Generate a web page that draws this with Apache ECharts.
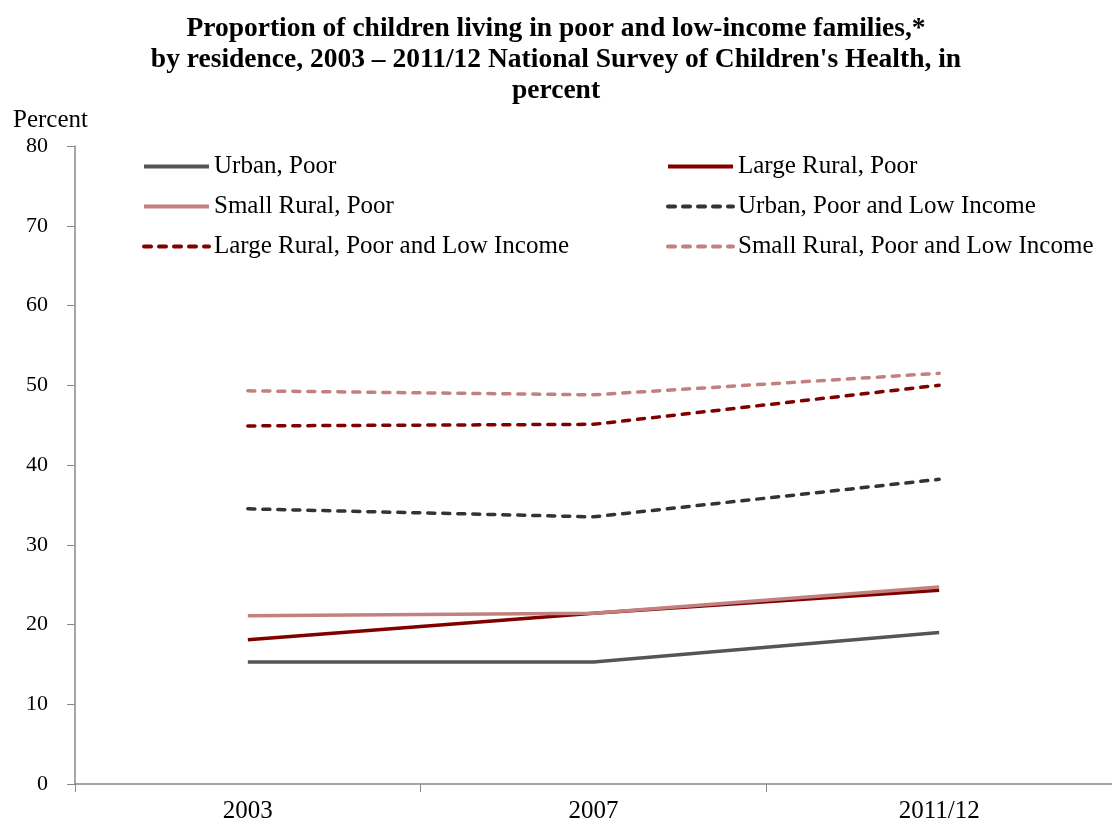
<!DOCTYPE html>
<html>
<head>
<meta charset="utf-8">
<script src="https://cdn.jsdelivr.net/npm/echarts@6/dist/echarts.min.js"></script>
<style>
  html, body { margin: 0; padding: 0; background: #fff; }
  #main { width: 1112px; height: 825px; }
</style>
</head>
<body>
<div id="main"></div>
<script>
// data
var years = ['2003', '2007', '2011/12'];
var urbanPoor = [15.3, 15.3, 19.0];
var largeRuralPoor = [18.1, 21.4, 24.3];
var smallRuralPoor = [21.1, 21.4, 24.7];
var urbanLow = [34.5, 33.5, 38.2];
var largeRuralLow = [44.9, 45.1, 50.0];
var smallRuralLow = [49.3, 48.8, 51.5];

var FONT = '"Liberation Serif", "DejaVu Serif", serif';

function line(name, values, color, dashed) {
  return {
    name: name,
    type: 'line',
    data: values,
    symbol: 'none',
    lineStyle: { color: color, width: 3.5, type: dashed ? [7, 8] : 'solid', cap: dashed ? 'round' : 'butt' },
    itemStyle: { color: color }
  };
}

var chart = echarts.init(document.getElementById('main'));

// legend: line only, no marker
var legendCommon = {
  orient: 'vertical',
  top: 149,
  itemWidth: 65,
  itemHeight: 26,
  itemGap: 15,
  itemStyle: { opacity: 0 },
  lineStyle: { width: 4 },
  textStyle: { fontFamily: FONT, fontSize: 25, color: '#000' }
};

var option = {
  backgroundColor: '#fff',
  animation: false,
  title: [{
    text: 'Proportion of children living in poor and low-income families,*\nby residence, 2003 \u2013 2011/12 National Survey of Children\'s Health, in\npercent',
    left: 'center',
    top: 8,
    textStyle: { fontFamily: FONT, fontSize: 27.5, fontWeight: 'bold', color: '#000', lineHeight: 31 }
  }, {
    text: 'Percent',
    left: 8,
    top: 103,
    textStyle: { fontFamily: FONT, fontSize: 25, fontWeight: 'normal', color: '#000' }
  }],
  legend: [
    Object.assign({}, legendCommon, {
      left: 137,
      data: ['Urban, Poor', 'Small Rural, Poor', 'Large Rural, Poor and Low Income']
    }),
    Object.assign({}, legendCommon, {
      left: 661,
      data: ['Large Rural, Poor', 'Urban, Poor and Low Income', 'Small Rural, Poor and Low Income']
    })
  ],
  grid: { left: 75, right: 0, top: 146, bottom: 41, containLabel: false },
  xAxis: {
    type: 'category',
    data: years,
    boundaryGap: true,
    axisLine: { lineStyle: { color: '#888', width: 1.5 } },
    axisTick: { show: true, length: 8, lineStyle: { color: '#888' } },
    axisLabel: { fontFamily: FONT, fontSize: 25, color: '#000', margin: 15 }
  },
  yAxis: {
    type: 'value',
    min: 0,
    max: 80,
    interval: 10,
    axisLine: { show: true, lineStyle: { color: '#888', width: 1.5 } },
    axisTick: { show: true, length: 8, lineStyle: { color: '#888' } },
    axisLabel: { fontFamily: FONT, fontSize: 22, color: '#000', margin: 27 },
    splitLine: { show: false }
  },
  series: [
    line('Urban, Poor', urbanPoor, '#555555', false),
    line('Large Rural, Poor', largeRuralPoor, '#800000', false),
    line('Small Rural, Poor', smallRuralPoor, '#c2807e', false),
    line('Urban, Poor and Low Income', urbanLow, '#333333', true),
    line('Large Rural, Poor and Low Income', largeRuralLow, '#800000', true),
    line('Small Rural, Poor and Low Income', smallRuralLow, '#c2807e', true)
  ]
};

chart.setOption(option);
</script>
</body>
</html>
